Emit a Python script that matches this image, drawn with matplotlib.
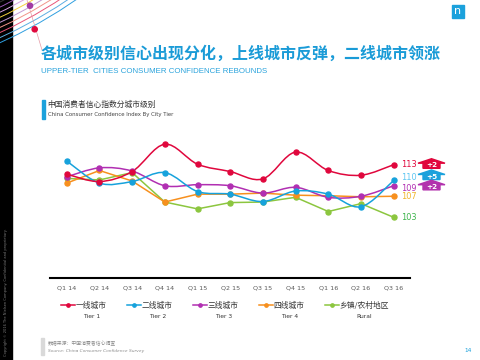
import matplotlib
matplotlib.use("Agg")
import matplotlib.pyplot as plt
import numpy as np
from matplotlib.path import Path
from matplotlib.patches import PathPatch, Rectangle, Polygon, Circle
from matplotlib.lines import Line2D

plt.rcParams['font.family'] = ['Noto Sans CJK SC', 'DejaVu Sans']

# ---------------- data ----------------
quarters = ["Q1 14", "Q2 14", "Q3 14", "Q4 14", "Q1 15", "Q2 15", "Q3 15",
            "Q4 15", "Q1 16", "Q2 16", "Q3 16"]
tier1 = [111.2, 109.8, 111.7, 116.9, 113.1, 111.7, 110.3, 115.4, 111.9, 111.0, 113.0]
tier2 = [113.7, 109.5, 109.8, 111.5, 107.9, 107.4, 106.0, 108.0, 107.4, 105.0, 110.0]
tier3 = [110.7, 112.4, 111.8, 109.0, 109.2, 109.0, 107.6, 108.7, 106.8, 107.0, 109.0]
tier4 = [109.5, 111.9, 109.9, 105.9, 107.4, 107.4, 107.6, 107.2, 107.1, 106.9, 107.0]
rural = [110.4, 110.1, 111.5, 105.9, 104.6, 105.8, 105.9, 106.8, 104.1, 105.6, 103.0]

series_cn = ["一线城市", "二线城市", "三线城市", "四线城市", "乡镇/农村地区"]
series_en = ["Tier 1", "Tier 2", "Tier 3", "Tier 4", "Rural"]
end_labels = ["113", "110", "109", "107", "103"]
deltas = ["+2", "+5", "+2"]          # for tier1, tier2, tier3

line_colors = ["#e0073d", "#16a2dc", "#b12fb2", "#f7901e", "#8cc63f"]
label_colors = ["#e0073d", "#5cc6f2", "#b12fb2", "#f0b429", "#3cb44a"]
smooth = [True, True, True, False, False]

W, H = 480, 360
fig = plt.figure(figsize=(4.8, 3.6), dpi=100)

# background / decoration axes in pixel coordinates
bg = fig.add_axes([0, 0, 1, 1])
bg.set_xlim(0, W)
bg.set_ylim(H, 0)
bg.axis('off')

bg.add_patch(Rectangle((0, 0), 12, H, color='black', zorder=1))
arc_cols = ['#3a3a3a', '#9b59b6', '#d6a5e0', '#f4d03f', '#c39bd3',
            '#f1948a', '#e8557a', '#5dade2', '#2f9fe0']
for i, c in enumerate(arc_cols):
    r = 449 + i * 4.6
    bg.add_patch(Circle((-200, -400), r, fill=False, edgecolor=c, lw=0.7, zorder=2))
bg.plot([24, 42], [-10, 50], color='#e59aa5', lw=0.5, zorder=2)
bg.add_patch(Circle((30, 5.7), 2.6, color='#a23aa3', zorder=3))
bg.add_patch(Circle((34.7, 29.3), 2.6, color='#e0073d', zorder=3))
bg.text(6, 356, "Copyright © 2016 The Nielsen Company. Confidential and proprietary.",
        rotation=90, ha='center', va='bottom', color='#7a7a7a', fontsize=2.6,
        family=['DejaVu Sans'], zorder=3)

# logo
bg.add_patch(Rectangle((452, 5), 12, 12.5, color='#1ba1dc', zorder=2))
bg.text(458, 11.5, "n", color='white', fontsize=8, ha='center', va='center',
        family=['DejaVu Sans'], zorder=3)

# titles
bg.text(40.5, 54, "各城市级别信心出现分化，上线城市反弹，二线城市领涨",
        color='#1a9bd7', fontsize=11.5, fontweight='bold', ha='left', va='center')
bg.text(40.7, 71.5, "UPPER-TIER  CITIES CONSUMER CONFIDENCE REBOUNDS",
        color='#2aa3dc', fontsize=5.7, ha='left', va='center',
        family=['Liberation Sans'])

# chart caption
bg.add_patch(Rectangle((41.7, 100), 3.2, 19.3, color='#1ba1dc'))
bg.text(47.5, 104.5, "中国消费者信心指数分城市级别", color='#333333', fontsize=5.6,
        ha='left', va='center')
bg.text(47.5, 114.5, "China Consumer Confidence Index By City Tier", color='#444444',
        fontsize=3.9, ha='left', va='center', family=['DejaVu Sans'])

# footer
bg.add_patch(Rectangle((41, 338), 2.6, 17, color='#d9d9d9'))
bg.text(47.5, 344, "数据来源：中国消费者信心调查", color='#8c8c8c', fontsize=3.5,
        ha='left', va='center')
bg.text(47.5, 350.7, "Source: China Consumer Confidence Survey", color='#8c8c8c',
        fontsize=3.2, ha='left', va='center', style='italic', family=['DejaVu Sans'])
bg.text(468, 350, "14", color='#1ba1dc', fontsize=4.2, ha='center', va='center',
        family=['DejaVu Sans'])

# ---------------- chart ----------------
ax_l, ax_r, ax_t, ax_b = 50.4, 410, 130, 278.3
ax = fig.add_axes([ax_l / W, 1 - ax_b / H, (ax_r - ax_l) / W, (ax_b - ax_t) / H])
ax.patch.set_alpha(0)
ax.set_xlim(-0.5, len(quarters) - 0.5)
ax.set_ylim(91.4, 119.6)
for s in ['top', 'right', 'left']:
    ax.spines[s].set_visible(False)
ax.spines['bottom'].set_color('black')
ax.spines['bottom'].set_linewidth(1.5)
ax.set_yticks([])
x = np.arange(len(quarters))
ax.set_xticks(x)
ax.set_xticklabels(quarters, family=['DejaVu Sans'])
ax.tick_params(axis='x', length=0, pad=5, labelsize=4.6, labelcolor='#595959')


def smooth_path(xs, ys):
    pts = np.column_stack([xs, ys]).astype(float)
    n = len(pts)
    verts = [tuple(pts[0])]
    codes = [Path.MOVETO]
    for i in range(n - 1):
        p0 = pts[max(i - 1, 0)]
        p1 = pts[i]
        p2 = pts[i + 1]
        p3 = pts[min(i + 2, n - 1)]
        c1 = p1 + (p2 - p0) / 6.0
        c2 = p2 - (p3 - p1) / 6.0
        verts += [tuple(c1), tuple(c2), tuple(p2)]
        codes += [Path.CURVE4] * 3
    return Path(verts, codes)


all_series = [tier1, tier2, tier3, tier4, rural]
order = [4, 3, 2, 1, 0]
for k in order:
    ys = all_series[k]
    c = line_colors[k]
    if smooth[k]:
        ax.add_patch(PathPatch(smooth_path(x, ys), fill=False, edgecolor=c,
                               lw=1.1, zorder=3 + (4 - k) * 0.1 + 0.5))
        ax.plot(x, ys, ls='none', marker='o', ms=3.6, color=c, zorder=4)
    else:
        ax.plot(x, ys, color=c, lw=1.1, marker='o', ms=3.6, zorder=3)

# end labels (small vertical nudges keep the close ones apart)
label_dy = [0, 1.8, -1.8, 0, 0]
for k, ys in enumerate(all_series):
    ax.annotate(end_labels[k], xy=(x[-1], ys[-1]), xytext=(5, label_dy[k]),
                textcoords='offset points', ha='left', va='center',
                color=label_colors[k], fontsize=5.9, family=['DejaVu Sans'],
                annotation_clip=False)

# delta arrows (positioned from the data values)
fig.canvas.draw()
arrow_cols = ["#e0073d", "#1ba1dc", "#b232ad"]
arrow_dy = [0, -4.5, 0.5]
cx = 431.5
for k in range(3):
    _, dy = ax.transData.transform((x[-1], all_series[k][-1]))
    cy = H - dy + arrow_dy[k]
    poly = [(cx - 13.5, cy - 1.5), (cx, cy - 6), (cx + 13.5, cy - 1.5),
            (cx + 8.5, cy - 1.5), (cx + 8.5, cy + 3.6), (cx - 8.5, cy + 3.6),
            (cx - 8.5, cy - 1.5)]
    bg.add_patch(Polygon(poly, closed=True, color=arrow_cols[k], zorder=3))
    bg.text(cx, cy + 0.6, deltas[k], color='white', fontsize=5.2, fontweight='bold',
            ha='center', va='center', family=['DejaVu Sans'], zorder=4)

# legend
handles = [Line2D([], [], color=c, lw=1.1, marker='o', ms=2.4) for c in line_colors]
leg = fig.legend(handles, series_cn, loc='center left',
                 bbox_to_anchor=(61 / W, 1 - 306 / H), ncol=5, frameon=False,
                 borderpad=0, borderaxespad=0, handlelength=1.75, handletextpad=0.15,
                 columnspacing=2.6, fontsize=5.6)
for t in leg.get_texts():
    t.set_color('#333333')
fig.canvas.draw()
renderer = fig.canvas.get_renderer()
for t, en in zip(leg.get_texts(), series_en):
    bb = t.get_window_extent(renderer)
    xc = (bb.x0 + bb.x1) / 2.0
    bg.text(xc, 317, en, color='#333333', fontsize=4.3, ha='center', va='center',
            family=['DejaVu Sans'])

fig.savefig("out.png", dpi=100)
